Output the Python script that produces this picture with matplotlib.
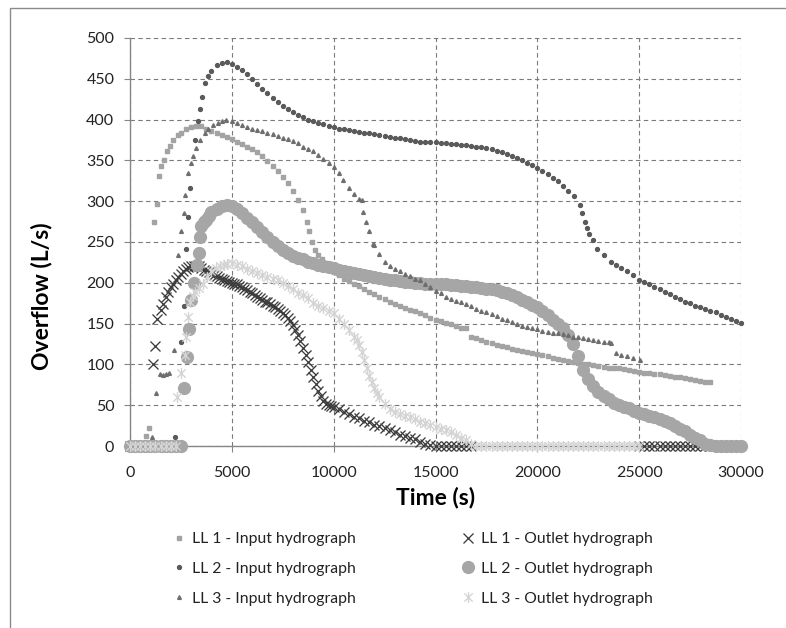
import numpy as np
import matplotlib
matplotlib.use('Agg')
import matplotlib.pyplot as plt
from matplotlib.path import Path
from matplotlib.patches import Rectangle

plt.rcParams['font.family'] = ['Lato', 'DejaVu Sans']

nan = np.nan

# ---- data (time in s, overflow in L/s) ----
ll1_in_t = [0, 250, 500, 790, 950, 1160, 1310, 1400, 1530, 1660, 1830, 1940, 2100, 2350, 2500,
            2750, 3000, 3250, 3500, 3750, 4000, 4250, 4500, 4750, 5000, 5250, 5500, 5750, 6000,
            6250, 6500, 6750, 7000, 7250, 7500, 7750, 8000, 8250, 8500, 8670, 8800, 8920, 9080,
            9250, 9410, 9600, 9800, 10000, 10250, 10500, 10750, 11000, 11250, 11500, 11750, 12000,
            12250, 12500, 12750, 13000, 13250, 13500, 13750, 14000, 14250, 14500, 14750, 15000,
            15250, 15500, 15750, 16000, 16250, 16500, 16750, 17000, 17250, 17500, 17750, 18000,
            18250, 18500, 18750, 19000, 19250, 19500, 19750, 20000, 20250, 20500, 20750, 21000,
            21250, 21500, 21750, 22000, 22250, 22500, 22750, 23000, 23250, 23500, 23750, 24000,
            24250, 24500, 24750, 25000, 25250, 25500, 25750, 26000, 26250, 26500, 26750, 27000,
            27250, 27500, 27750, 28000, 28250, 28500]
ll1_in_q = [0, 0, 0, 12, 22, 274, 297, 331, 343, 350, 361, 368, 375, 381, 384,
            388, 391, 392, 392, 389, 386, 384, 381, 379, 376, 373, 370, 367, 364,
            360, 355, 349, 343, 337, 330, 322, 313, 302, 289, 275, 263, 250, 240,
            234, 229, 224, 218, 213, 209, 205, 202, 199, 196, 193, 189, 186,
            183, 180, 177, 174, 171, 169, 167, 165, 163, 160, 157, 155,
            153, 151, 149, 147, 145, 144, 134, 132, 130, 128, 126, 124,
            122, 121, 119, 118, 117, 115, 114, 113, 111, 110, 108, 107,
            106, 104, 103, 102, 101, 100, 99, 98, 97, 96, 95, 95,
            94, 93, 92, 91, 90, 89, 88, 88, 87, 86, 85, 84,
            83, 82, 81, 80, 79, 78]

ll1_out_t = [0, 250, 500, 750, 1000, 1110, 1230, 1350, 1500, 1620, 1750, 1870, 2000, 2120, 2250,
             2370, 2500, 2620, 2750, 2870, 3000, 3120, 3250, 3370, 3500, 3620, 3750, 3870, 4000,
             4120, 4250, 4370, 4500, 4620, 4750, 4870, 5000, 5120, 5250, 5370, 5500, 5620, 5750,
             5870, 6000, 6120, 6250, 6370, 6500, 6620, 6750, 6870, 7000, 7120, 7250, 7370, 7500,
             7620, 7750, 7870, 8000, 8120, 8250, 8370, 8500, 8620, 8750, 8870, 9000, 9120, 9250,
             9370, 9500, 9620, 9750, 9870, 10000, 10250, 10500, 10750, 11000, 11250, 11500, 11750,
             12000, 12250, 12500, 12750, 13000, 13250, 13500, 13750, 14000, 14250, 14500, 14750,
             15000, 15250, 15500, 15750, 16000, 16250, 16500, 16750, nan,
             25000, 25250, 25500, 25750, 26000, 26250, 26500, 26750, 27000, 27250, 27500, 27750,
             28000, 28250, 28500]
ll1_out_q = [0, 0, 0, 0, 0, 100, 122, 156, 167, 174, 182, 189, 195, 199, 203,
             207, 211, 214, 217, 219, 220, 220, 220, 220, 218, 216, 214, 213, 211,
             209, 208, 206, 205, 204, 202, 201, 200, 199, 198, 196, 195, 193, 191,
             189, 187, 185, 183, 181, 179, 177, 176, 174, 172, 170, 168, 166, 163,
             160, 157, 153, 148, 142, 136, 129, 120, 112, 103, 93, 84, 76, 68,
             61, 55, 52, 50, 49, 48, 45, 42, 39, 36, 34, 31, 29,
             26, 24, 22, 19, 17, 14, 12, 10, 8, 5, 3, 1,
             0, 0, 0, 0, 0, 0, 0, 0, nan,
             0, 0, 0, 0, 0, 0, 0, 0, 0, 0, 0, 0,
             0, 0, 0]

ll2_in_t = [0, 250, 500, 750, 1000, 1250, 1500, 1750, 2000, 2220, 2520, 2650, 2740, 2840, 2950,
            3200, 3330, 3460, 3540, 3690, 3820, 4000, 4250, 4500, 4750, 5000, 5250, 5500, 5750,
            6000, 6250, 6500, 6750, 7000, 7250, 7500, 7750, 8000, 8250, 8500, 8750, 9000, 9250,
            9500, 9750, 10000, 10250, 10500, 10750, 11000, 11250, 11500, 11750, 12000, 12250,
            12500, 12750, 13000, 13250, 13500, 13750, 14000, 14250, 14500, 14750, 15000, 15250,
            15500, 15750, 16000, 16250, 16500, 16750, 17000, 17250, 17500, 17750, 18000, 18250,
            18500, 18750, 19000, 19250, 19500, 19750, 20000, 20250, 20500, 20750, 21000, 21250,
            21500, 21800, 22080, 22210, 22340, 22460, 22540, 22710, 22950, 23280, 23610, 23850,
            24100, 24400, 24680, 25000, 25250, 25500, 25750, 26000, 26250, 26500, 26750, 27000,
            27250, 27500, 27750, 28000, 28250, 28500, 28750, 29000, 29250, 29500, 29750, 30000]
ll2_in_q = [0, 0, 0, 0, 0, 0, 0, 0, 0, 11, 127, 172, 242, 281, 316,
            375, 398, 413, 428, 445, 453, 460, 467, 469, 470, 468, 465, 461, 456,
            450, 444, 438, 432, 426, 421, 417, 413, 409, 406, 403, 400, 398, 396,
            394, 392, 391, 389, 388, 387, 386, 385, 384, 383, 382, 381,
            380, 379, 378, 377, 376, 375, 374, 373, 373, 372, 372, 371,
            371, 370, 370, 369, 369, 368, 367, 366, 365, 364, 362, 360,
            358, 356, 353, 350, 347, 344, 341, 337, 333, 329, 325, 319,
            313, 306, 295, 285, 275, 267, 260, 252, 242, 234, 226, 222,
            218, 214, 210, 204, 201, 198, 195, 192, 189, 186, 183, 180,
            177, 175, 172, 170, 168, 166, 164, 161, 158, 156, 153, 151]

ll2_out_t = [0, 250, 500, 750, 1000, 1250, 1500, 1750, 2000, 2250, 2500, 2660, 2800, 2920, 3000,
             3150, 3290, 3370, 3420, 3490, 3620, 3740, 3870, 4000, 4250, 4500, 4750, 5000, 5250,
             5500, 5750, 6000, 6250, 6500, 6750, 7000, 7250, 7500, 7750, 8000, 8250, 8500, 8750,
             9000, 9250, 9500, 9750, 10000, 10250, 10500, 10750, 11000, 11250, 11500, 11750,
             12000, 12250, 12500, 12750, 13000, 13250, 13500, 13750, 14000, 14250, 14500, 14750,
             15000, 15250, 15500, 15750, 16000, 16250, 16500, 16750, 17000, 17250, 17500, 17750,
             18000, 18250, 18500, 18750, 19000, 19250, 19500, 19750, 20000, 20250, 20500, 20750,
             21000, 21250, 21500, 21750, 22000, 22250, 22500, 22750, 23000, 23250, 23500, 23750,
             24000, 24250, 24500, 24750, 25000, 25250, 25500, 25750, 26000, 26250, 26500, 26750,
             27000, 27250, 27500, 27750, 28000, 28250, 28500, 28750, 29000, 29250, 29500, 29750,
             30000]
ll2_out_q = [0, 0, 0, 0, 0, 0, 0, 0, 0, 0, 0, 71, 109, 143, 179,
             200, 222, 236, 256, 269, 274, 277, 282, 287, 291, 294, 295, 294, 291,
             286, 280, 274, 268, 262, 256, 250, 245, 240, 236, 233, 231, 229, 226,
             224, 222, 221, 219, 218, 216, 215, 213, 212, 211, 210, 208,
             207, 206, 205, 204, 203, 202, 201, 201, 200, 200, 199, 199,
             199, 198, 198, 197, 197, 196, 196, 195, 195, 194, 193, 192,
             191, 189, 187, 185, 182, 179, 176, 173, 170, 166, 161, 155,
             150, 144, 136, 125, 110, 93, 82, 73, 66, 61, 57, 53,
             50, 48, 46, 43, 41, 39, 37, 35, 33, 31, 28, 25,
             21, 18, 14, 10, 7, 3, 1, 0, 0, 0, 0, 0,
             0]

ll3_in_t = [0, 250, 500, 750, 1100, 1270, 1450, 1600, 1750, 1900, 2180, 2350, 2520, 2630, 2720,
            2850, 2980, 3100, 3230, 3420, 3670, 3850, 4070, 4300, 4500, 4730, 5000, 5250, 5500,
            5750, 6000, 6250, 6500, 6750, 7000, 7250, 7500, 7750, 8000, 8250, 8500, 8750, 9000,
            9250, 9500, 9750, 10000, 10250, 10470, 10750, 11000, 11250, 11380, 11460, 11590,
            11750, 11950, 12000, 12250, 12500, 12750, 13000, 13250, 13500, 13750, 14000, 14250,
            14500, 14750, 15000, 15250, 15500, 15750, 16000, 16250, 16500, 16750, 17000, 17250,
            17500, 17750, 18000, 18250, 18500, 18750, 19000, 19250, 19500, 19750, 20000, 20250,
            20500, 20750, 21000, 21250, 21500, 21750, 22000, 22250, 22500, 22750, 23000, 23250,
            23500, 23610, nan, 23860, 24100, 24400, 24700, 25040]
ll3_in_q = [0, 0, 0, 0, 11, 65, 88, 87, 88, 89, 118, 234, 263, 285, 307,
            335, 347, 355, 365, 375, 383, 388, 393, 396, 398, 399, 398, 396, 393,
            391, 389, 387, 386, 384, 382, 380, 378, 376, 374, 371, 367, 364, 361,
            357, 352, 347, 342, 334, 326, 316, 309, 303, 301, 287, 275,
            263, 248, 246, 235, 226, 220, 217, 214, 211, 208, 205, 203,
            199, 195, 190, 187, 183, 180, 178, 176, 174, 171, 168, 166,
            164, 162, 159, 156, 154, 152, 150, 147, 146, 144, 143, 141,
            140, 139, 138, 137, 136, 134, 133, 132, 131, 130, 129, 128,
            127, 126, nan, 114, 112, 110, 108, 106]

ll3_out_t = [0, 250, 500, 750, 1000, 1250, 1500, 1750, 2000, 2250, 2300, 2480, 2680, 2760, 2840,
             2960, 3070, 3170, 3370, 3580, 3790, 3990, 4200, 4400, 4600, 4750, 5000, 5250, 5500,
             5750, 6000, 6250, 6500, 6750, 7000, 7250, 7500, 7750, 8000, 8250, 8500, 8750, 9000,
             9250, 9500, 9750, 10000, 10250, 10500, 10750, 11000, 11125, 11250, 11375, 11500,
             11625, 11750, 11875, 12000, 12125, 12250, 12500, 12750, 13000, 13250, 13500, 13750,
             14000, 14250, 14500, 14750, 15000, 15250, 15500, 15750, 16000, 16250, 16500, 16750,
             17000, 17250, 17500, 17750, 18000, 18250, 18500, 18750, 19000, 19250, 19500, 19750,
             20000, 20250, 20500, 20750, 21000, 21250, 21500, 21750, 22000, 22250, 22500, 22750,
             23000, 23250, 23500, 23750, 24000, 24250, 24500, 24750, 25000]
ll3_out_q = [0, 0, 0, 0, 0, 0, 0, 0, 0, 0, 60, 89, 111, 134, 158,
             177, 184, 189, 194, 199, 207, 214, 218, 220, 222, 223, 224, 222, 220,
             217, 215, 212, 209, 207, 205, 203, 200, 196, 192, 188, 185, 181, 175,
             172, 169, 166, 163, 156, 150, 142, 134, 130, 124, 115, 106,
             95, 86, 78, 71, 65, 60, 51, 45, 42, 39, 37, 35,
             33, 30, 28, 26, 23, 21, 19, 17, 14, 10, 7, 3,
             0, 0, 0, 0, 0, 0, 0, 0, 0, 0, 0, 0,
             0, 0, 0, 0, 0, 0, 0, 0, 0, 0, 0, 0,
             0, 0, 0, 0, 0, 0, 0, 0, 0]

x_ticks = [0, 5000, 10000, 15000, 20000, 25000, 30000]
y_ticks = [0, 50, 100, 150, 200, 250, 300, 350, 400, 450, 500]

# Excel-style star marker: an X with a vertical stroke
star = Path([(-1, -1), (1, 1), (-1, 1), (1, -1), (0, -1.3), (0, 1.3)],
            [Path.MOVETO, Path.LINETO] * 3)

fig = plt.figure(figsize=(7.86, 6.28), dpi=100)
ax = fig.add_axes([130 / 786, 1 - 446 / 628, 611 / 786, 408 / 628])

# series order as in the Excel workbook (drawing order)
series = [
    ('LL 1 - Input hydrograph', ll1_in_t, ll1_in_q,
     dict(marker='s', ms=2.6, color='#a3a3a3', mec='#a3a3a3')),
    ('LL 1 - Outlet hydrograph', ll1_out_t, ll1_out_q,
     dict(marker='x', ms=7.2, mew=0.95, color='#3c3c3c')),
    ('LL 2 - Input hydrograph', ll2_in_t, ll2_in_q,
     dict(marker='o', ms=2.8, color='#5a5a5a', mec='#5a5a5a')),
    ('LL 2 - Outlet hydrograph', ll2_out_t, ll2_out_q,
     dict(marker='o', ms=8.5, color='#a6a6a6', mec='#a6a6a6')),
    ('LL 3 - Input hydrograph', ll3_in_t, ll3_in_q,
     dict(marker='^', ms=2.7, color='#6e6e6e', mec='#6e6e6e')),
    ('LL 3 - Outlet hydrograph', ll3_out_t, ll3_out_q,
     dict(marker=star, ms=7.8, mew=1.0, color='#d4d4d4')),
]

handles = {}
for z, (label, t, q, style) in enumerate(series):
    h, = ax.plot(t, q, linestyle='none', label=label, zorder=3 + z, clip_on=False, **style)
    handles[label] = h

ax.set_xlim(0, 30000)
ax.set_ylim(0, 500)
ax.set_xticks(x_ticks)
ax.set_yticks(y_ticks)
ax.tick_params(labelsize=11.5, colors='#868686', labelcolor='#222222', length=4.3, width=0.8,
               pad=7)
ax.tick_params(axis='x', pad=10)
ax.grid(True, linestyle=(0, (4, 3)), color='#7a7a7a', linewidth=0.8)
ax.set_axisbelow(True)
for side in ['top', 'right']:
    ax.spines[side].set_visible(False)
for side in ['left', 'bottom']:
    ax.spines[side].set_color('#868686')
    ax.spines[side].set_linewidth(1.0)

ax.set_xlabel('Time (s)', fontsize=16.5, fontweight='bold', va='center')
ax.xaxis.set_label_coords(0.5, -(497 - 446) / 408)
ax.set_ylabel('Overflow (L/s)', fontsize=16.5, fontweight='bold', va='center')
ax.yaxis.set_label_coords((42 - 130) / 611, (446 - 296) / 408)

order = ['LL 1 - Input hydrograph', 'LL 2 - Input hydrograph', 'LL 3 - Input hydrograph',
         'LL 1 - Outlet hydrograph', 'LL 2 - Outlet hydrograph', 'LL 3 - Outlet hydrograph']
fig.legend([handles[k] for k in order], order, loc='upper left',
           bbox_to_anchor=(157 / 786, 1 - 518 / 628), ncol=2, frameon=False,
           fontsize=11.3, handlelength=1.0, handletextpad=0.3, columnspacing=6.7,
           labelspacing=1.0, labelcolor='#222222')

# outer chart-area frame
fig.add_artist(Rectangle((10 / 786, -0.05), 1.2, 1.05 - 8 / 628, transform=fig.transFigure,
                         fill=False, edgecolor='#8a8a8a', linewidth=1.0))

fig.savefig('out.png', dpi=100)
